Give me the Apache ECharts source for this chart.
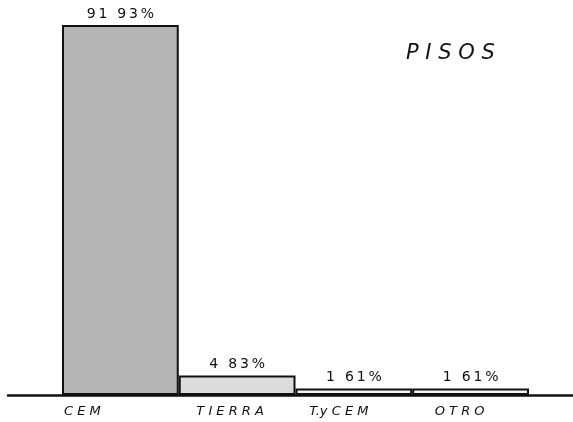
<!DOCTYPE html>
<html>
<head>
<meta charset="utf-8">
<script src="https://cdn.jsdelivr.net/npm/echarts@6/dist/echarts.min.js"></script>
<style>
  html, body { margin: 0; padding: 0; background: #fff; }
  #chart { width: 573px; height: 422px; }
</style>
</head>
<body>
<div id="chart"></div>
<script>
// pisos por tipo, en porcentaje
var categories = ['CEM', 'TIERRA', 'TyCEM', 'OTRO']
var values = [91.93, 4.83, 1.61, 1.61]
var fills = ['#b4b4b4', '#dcdcdc', '#f2f2f2', '#f4f4f4']
// shift of each category label to the left of the bar centre
var labelShift = [38, 7, 15, 11]

var chart = echarts.init(document.getElementById('chart'))

function spaced(s, sep) {
  return s.split('').join(sep)
}

chart.setOption({
  animation: false,
  title: {
    text: 'P I S O S',
    left: 401,
    top: 38,
    textStyle: {
      fontFamily: 'DejaVu Sans',
      fontStyle: 'italic',
      fontWeight: 'normal',
      fontSize: 21,
      color: '#111'
    }
  },
  grid: [
    { left: 62, right: 44, top: 25, bottom: 27 },
    { left: 8, right: 0, top: 25, bottom: 27 }
  ],
  xAxis: [
    {
      type: 'category',
      gridIndex: 0,
      data: categories.map(function(c, i) {
        return { value: c, textStyle: { padding: [0, labelShift[i] * 2, 0, 0] } }
      }),
      axisLine: { show: false },
      axisTick: { show: false },
      axisLabel: {
        margin: 10,
        fontFamily: 'DejaVu Sans',
        fontStyle: 'italic',
        fontSize: 13,
        color: '#111',
        formatter: function(v) { return spaced(v.replace('Ty', 'T.y'), ' ').replace('T . y', 'T.y') }
      }
    },
    {
      type: 'value',
      gridIndex: 1,
      axisLine: { show: true, onZero: false, lineStyle: { color: '#111', width: 2.5 } },
      axisTick: { show: false },
      axisLabel: { show: false },
      splitLine: { show: false }
    }
  ],
  yAxis: [
    { type: 'value', gridIndex: 0, min: 0, max: 'dataMax', show: false },
    { type: 'value', gridIndex: 1, show: false }
  ],
  series: [
    {
      type: 'bar',
      xAxisIndex: 0,
      yAxisIndex: 0,
      barWidth: '100%',
      data: values.map(function(v, i) {
        return { value: v, itemStyle: { color: fills[i] } }
      }),
      itemStyle: { borderColor: '#111', borderWidth: 2 },
      label: {
        show: true,
        position: 'top',
        distance: 4,
        fontFamily: 'DejaVu Sans',
        fontSize: 14,
        color: '#111',
        formatter: function(p) {
          return spaced(p.value.toFixed(2).replace('.', ' '), '\u2009') + '\u2009%'
        }
      }
    }
  ]
})
</script>
</body>
</html>
